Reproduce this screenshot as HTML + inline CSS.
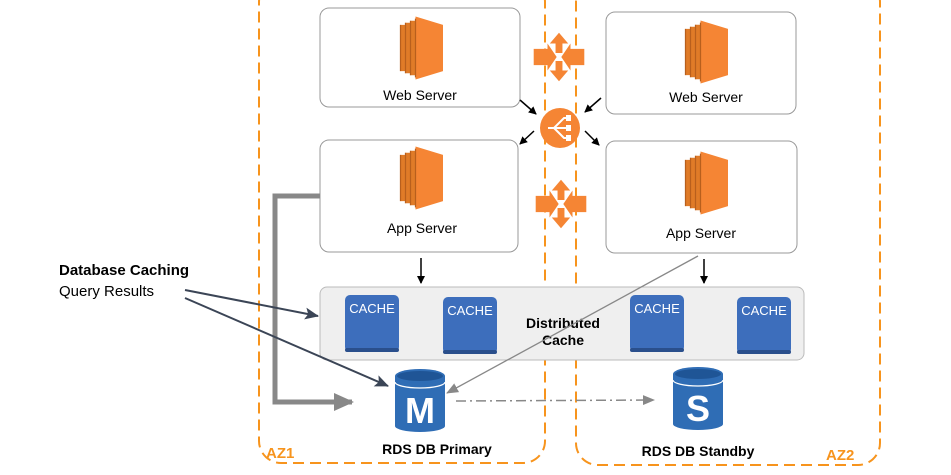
<!DOCTYPE html>
<html><head><meta charset="utf-8"><style>
body{margin:0;width:951px;height:475px;background:#fff;overflow:hidden;font-family:"Liberation Sans",sans-serif}
svg{position:absolute;left:0;top:0}
</style></head><body>
<svg width="951" height="475" viewBox="0 0 951 475" font-family="Liberation Sans, sans-serif">
<defs>
<marker id="ab" markerWidth="8" markerHeight="8" refX="7" refY="4" orient="auto" markerUnits="userSpaceOnUse"><path d="M0,0 L8,4 L0,8 z" fill="#000"/></marker>
<marker id="ad" markerWidth="14" markerHeight="12" refX="13" refY="6" orient="auto" markerUnits="userSpaceOnUse"><path d="M0,0 L14,6 L0,12 L3,6 z" fill="#3b4556"/></marker>
<marker id="ag" markerWidth="12" markerHeight="10" refX="11" refY="5" orient="auto" markerUnits="userSpaceOnUse"><path d="M0,0 L12,5 L0,10 z" fill="#888"/></marker>
<marker id="agt" markerWidth="20" markerHeight="18" refX="18" refY="9" orient="auto" markerUnits="userSpaceOnUse"><path d="M0,0 L20,9 L0,18 z" fill="#888"/></marker>
<g id="srv0"><path d="M-14,-22 h6 v44 h-6z M-10,-24 h6 v48 h-6z M-6,-26 h6 v52 h-6z" fill="#e07b28"/><path d="M-2,-30 L20,-22 V22 L-2,30 z" fill="#f58534"/><path d="M-14,-22 v44 M-10,-24 v48 M-6,-26 v52 M-2,-28 v56" stroke="#b85f1d" stroke-width="1"/></g>
<g id="srv" transform="scale(1.25,1.05)"><use href="#srv0"/></g>
<g id="cache"><rect x="0" y="0" width="54" height="57" rx="5" fill="#3d6ebc"/><rect x="0" y="53" width="54" height="4" rx="2" fill="#2a4f8c"/><text x="27" y="18" text-anchor="middle" fill="#fff" font-size="13" font-family="Liberation Sans Narrow, Liberation Sans, sans-serif">CACHE</text></g>
<g id="cross0" fill="#f58534"><path d="M0,-18 L8,-10 H3 V-3 H-3 V-10 H-8z"/><path d="M0,18 L8,10 H3 V3 H-3 V10 H-8z"/><path d="M-22,-6 H-10 V-10 L-2,0 L-10,10 V6 H-22z"/><path d="M22,-6 H10 V-10 L2,0 L10,10 V6 H22z"/></g>
<g id="cross" transform="scale(1.15,1.35)"><use href="#cross0"/></g>
</defs>
<rect x="259" y="-20" width="286" height="483" rx="22" fill="none" stroke="#f7941d" stroke-width="2" stroke-dasharray="11,6"/>
<rect x="576" y="-20" width="304" height="485" rx="22" fill="none" stroke="#f7941d" stroke-width="2" stroke-dasharray="11,6"/>
<text x="266" y="458" fill="#f7941d" font-size="15" font-weight="bold">AZ1</text>
<text x="826" y="460" fill="#f7941d" font-size="15" font-weight="bold">AZ2</text>
<rect x="320" y="8" width="200" height="99" rx="9" fill="#fff" stroke="#999"/>
<rect x="606" y="12" width="190" height="102" rx="9" fill="#fff" stroke="#999"/>
<rect x="320" y="140" width="198" height="112" rx="9" fill="#fff" stroke="#999"/>
<rect x="606" y="141" width="191" height="112" rx="9" fill="#fff" stroke="#999"/>
<use href="#srv" x="418" y="48"/><use href="#srv" x="703" y="52"/>
<use href="#srv" x="418" y="178"/><use href="#srv" x="703" y="183"/>
<text x="420" y="100" text-anchor="middle" font-size="14">Web Server</text>
<text x="706" y="102" text-anchor="middle" font-size="14">Web Server</text>
<text x="422" y="233" text-anchor="middle" font-size="14">App Server</text>
<text x="701" y="238" text-anchor="middle" font-size="14">App Server</text>
<use href="#cross" x="559" y="57"/><use href="#cross" x="561" y="204"/>
<circle cx="560" cy="128" r="20" fill="#f58534"/>
<path d="M548,128 h6 M554,128 l10,-10 h6 M554,128 h16 M554,128 l10,10 h6" stroke="#fff" stroke-width="2" fill="none"/>
<rect x="566" y="115" width="5" height="6" fill="#fff"/><rect x="566" y="125" width="5" height="6" fill="#fff"/><rect x="566" y="135" width="5" height="6" fill="#fff"/>
<line x1="520" y1="100" x2="536" y2="114" stroke="#000" stroke-width="1.5" marker-end="url(#ab)"/>
<line x1="601" y1="98" x2="585" y2="112" stroke="#000" stroke-width="1.5" marker-end="url(#ab)"/>
<line x1="534" y1="131" x2="520" y2="144" stroke="#000" stroke-width="1.5" marker-end="url(#ab)"/>
<line x1="585" y1="131" x2="599" y2="145" stroke="#000" stroke-width="1.5" marker-end="url(#ab)"/>
<line x1="421" y1="258" x2="421" y2="283" stroke="#000" stroke-width="1.5" marker-end="url(#ab)"/>
<line x1="704" y1="259" x2="704" y2="283" stroke="#000" stroke-width="1.5" marker-end="url(#ab)"/>
<rect x="320" y="287" width="484" height="73" rx="7" fill="#efefef" stroke="#bbb"/>
<use href="#cache" x="345" y="295"/><use href="#cache" x="443" y="297"/><use href="#cache" x="630" y="295"/><use href="#cache" x="737" y="297"/>
<text x="563" y="328" text-anchor="middle" font-size="14" font-weight="bold">Distributed</text>
<text x="563" y="345" text-anchor="middle" font-size="14" font-weight="bold">Cache</text>
<polyline points="320,196 275,196 275,402 352,402" fill="none" stroke="#888" stroke-width="5" marker-end="url(#agt)"/>
<g transform="translate(420,368)"><path d="M-25,8 V58 A25,6 0 0 0 25,58 V8z" fill="#2f6db5"/><ellipse cx="0" cy="8" rx="25" ry="7" fill="#2f6db5"/><ellipse cx="0" cy="8" rx="23" ry="5" fill="#1f5596"/><path d="M-25,14 A25,6 0 0 0 25,14" stroke="#fff" fill="none" stroke-width="1.2"/><text x="0" y="55" text-anchor="middle" fill="#fff" font-size="36" font-weight="bold">M</text></g>
<g transform="translate(698,366)"><path d="M-25,8 V58 A25,6 0 0 0 25,58 V8z" fill="#2f6db5"/><ellipse cx="0" cy="8" rx="25" ry="7" fill="#2f6db5"/><ellipse cx="0" cy="8" rx="23" ry="5" fill="#1f5596"/><path d="M-25,14 A25,6 0 0 0 25,14" stroke="#fff" fill="none" stroke-width="1.2"/><text x="0" y="55" text-anchor="middle" fill="#fff" font-size="36" font-weight="bold">S</text></g>
<line x1="698" y1="256" x2="447" y2="393" stroke="#888" stroke-width="1.3" marker-end="url(#ag)"/>
<line x1="456" y1="401" x2="654" y2="400" stroke="#888" stroke-width="1.5" stroke-dasharray="10,4,2,4" marker-end="url(#ag)"/>
<text x="437" y="454" text-anchor="middle" font-size="14" font-weight="bold">RDS DB Primary</text>
<text x="698" y="456" text-anchor="middle" font-size="14" font-weight="bold">RDS DB Standby</text>
<text x="59" y="275" font-size="15" font-weight="bold">Database Caching</text>
<text x="59" y="296" font-size="15">Query Results</text>
<line x1="185" y1="290" x2="318" y2="316" stroke="#3b4556" stroke-width="2" marker-end="url(#ad)"/>
<line x1="185" y1="298" x2="388" y2="386" stroke="#3b4556" stroke-width="2" marker-end="url(#ad)"/>
</svg>
</body></html>
